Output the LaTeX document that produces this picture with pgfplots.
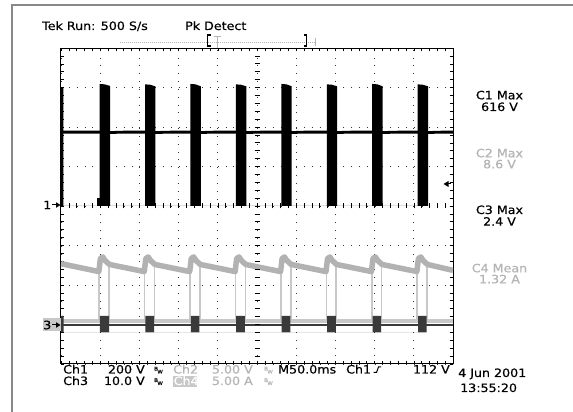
\documentclass[border=0pt]{standalone}
\usepackage{pgfplots}
\pgfplotsset{compat=1.18}
\usepackage{fontspec}
\setmainfont{DejaVu Sans}[FakeStretch=1.1,FakeBold=0.4]
\definecolor{lg}{RGB}{180,180,180}
\definecolor{cfour}{RGB}{178,178,178}
\definecolor{cfourl}{RGB}{200,200,200}
\definecolor{cthree}{RGB}{58,58,58}
\definecolor{frm}{RGB}{136,136,136}
\newcommand{\tk}{\fontsize{11.5}{13}\selectfont}
\newcommand{\bw}[3]{%
  \node[anchor=base west, inner sep=0, text=#3, font=\fontsize{5}{5}\selectfont] at (#1,#2) {\raisebox{3pt}{B}\kern-0.6pt W};}
\begin{document}
\begin{tikzpicture}
\useasboundingbox (0,0) rectangle (573pt,412pt);
\fill[white] (0,0) rectangle (573pt,412pt);
\begin{axis}[at={(61pt,48pt)}, anchor=south west, width=392pt, height=316pt, scale only axis,
 xmin=0, xmax=10, ymin=-4, ymax=4,
 xtick distance=1, ytick distance=1, minor tick num=4,
 xticklabels={}, yticklabels={},
 tick align=inside, xtick pos=both, ytick pos=both,
 major tick length=3pt, minor tick length=3pt,
 tick style={black, line width=0.6pt},
 grid=major, major grid style={black!80, line width=0.7pt, dash pattern=on 0.7pt off 7.14pt},
 axis line style={black, line width=1pt},
 clip=true]
% Ch4 baseline
\addplot[cfourl, line width=4pt] coordinates {(0,-2.91) (10,-2.91)};
% Ch4 vertical edges
\addplot[cfourl, line width=1.6pt, unbounded coords=jump] coordinates {
(0.975,-1.60) (0.975,-2.90) (0.975,nan) (1.225,-1.50) (1.225,-2.90) (1.225,nan)
(2.134,-1.60) (2.134,-2.90) (2.134,nan) (2.384,-1.50) (2.384,-2.90) (2.384,nan)
(3.293,-1.60) (3.293,-2.90) (3.293,nan) (3.543,-1.50) (3.543,-2.90) (3.543,nan)
(4.452,-1.60) (4.452,-2.90) (4.452,nan) (4.702,-1.50) (4.702,-2.90) (4.702,nan)
(5.611,-1.60) (5.611,-2.90) (5.611,nan) (5.861,-1.50) (5.861,-2.90) (5.861,nan)
(6.770,-1.60) (6.770,-2.90) (6.770,nan) (7.020,-1.50) (7.020,-2.90) (7.020,nan)
(7.929,-1.60) (7.929,-2.90) (7.929,nan) (8.179,-1.50) (8.179,-2.90) (8.179,nan)
(9.088,-1.60) (9.088,-2.90) (9.088,nan) (9.338,-1.50) (9.338,-2.90)};
% Ch4 sawtooth
\addplot[cfour, line width=5.5pt, line join=round] coordinates {
(0,-1.46) (0.965,-1.66) (1.005,-1.33) (1.065,-1.29) (1.125,-1.38) (1.235,-1.48)
(2.124,-1.66) (2.164,-1.33) (2.224,-1.29) (2.284,-1.38) (2.394,-1.48)
(3.283,-1.66) (3.323,-1.33) (3.383,-1.29) (3.443,-1.38) (3.553,-1.48)
(4.442,-1.66) (4.482,-1.33) (4.542,-1.29) (4.602,-1.38) (4.712,-1.48)
(5.601,-1.66) (5.641,-1.33) (5.701,-1.29) (5.761,-1.38) (5.871,-1.48)
(6.760,-1.66) (6.800,-1.33) (6.860,-1.29) (6.920,-1.38) (7.030,-1.48)
(7.919,-1.66) (7.959,-1.33) (8.019,-1.29) (8.079,-1.38) (8.189,-1.48)
(9.078,-1.66) (9.118,-1.33) (9.178,-1.29) (9.238,-1.38) (9.348,-1.48)
(10,-1.63)};
% Ch3 trace
\addplot[cthree, line width=2.5pt] coordinates {(0,-3.01) (10,-3.01)};
\addplot[fill=cthree, draw=none] coordinates {
(0,-3.2) (0,-2.78) (0.07,-2.78) (0.07,-3.2)
(0.99,-3.2) (0.99,-2.78) (1.225,-2.78) (1.225,-3.2)
(2.15,-3.2) (2.15,-2.78) (2.374,-2.78) (2.374,-3.2)
(3.31,-3.2) (3.31,-2.78) (3.533,-2.78) (3.533,-3.2)
(4.47,-3.2) (4.47,-2.78) (4.692,-2.78) (4.692,-3.2)
(5.63,-3.2) (5.63,-2.78) (5.851,-2.78) (5.851,-3.2)
(6.79,-3.2) (6.79,-2.78) (7.010,-2.78) (7.010,-3.2)
(7.95,-3.2) (7.95,-2.78) (8.169,-2.78) (8.169,-3.2)
(9.11,-3.2) (9.11,-2.78) (9.328,-2.78) (9.328,-3.2)} --cycle;
% Ch1 level line
\addplot[black, line width=2.8pt] coordinates {
(0.05,1.87) (0.5,1.87) (0.995,1.87)
(1.25,1.86) (1.6,1.87) (2.154,1.87)
(2.41,1.86) (2.8,1.87) (3.313,1.87)
(3.57,1.86) (3.9,1.87) (4.472,1.87)
(4.73,1.86) (5.1,1.87) (5.631,1.87)
(5.89,1.86) (6.2,1.87) (6.790,1.87)
(7.05,1.86) (7.4,1.87) (7.949,1.87)
(8.21,1.86) (8.6,1.87) (9.108,1.87)
(9.37,1.86) (9.7,1.87) (10,1.87)};
% Ch1 spikes
\addplot[fill=black, draw=none] coordinates {
(0,0) (0,3.00) (0.06,3.00) (0.06,0)
(0.92,0) (0.92,0.2) (0.985,0.2) (0.985,3.09) (1.11,3.08) (1.25,3.04) (1.25,0)
(2.144,0) (2.144,3.08) (2.27,3.07) (2.409,3.03) (2.409,0)
(3.303,0) (3.303,3.09) (3.43,3.08) (3.568,3.03) (3.568,0)
(4.462,0) (4.462,3.08) (4.59,3.07) (4.727,3.03) (4.727,0)
(5.621,0) (5.621,3.09) (5.75,3.08) (5.886,3.03) (5.886,0)
(6.780,0) (6.780,3.08) (6.91,3.07) (7.045,3.03) (7.045,0)
(7.939,0) (7.939,3.09) (8.07,3.08) (8.204,3.03) (8.204,0)
(9.098,0) (9.098,3.08) (9.23,3.07) (9.363,3.03) (9.363,0)} --cycle;
\end{axis}
\begin{scope}[x=1pt,y=1pt]
% outer frame
\draw[frm, line width=2pt] (12,0) -- (12,407) -- (573,407);
% center cross ticks
\foreach \i in {1,...,39} \draw[black, line width=0.6pt] (254.5,48+\i*7.9) -- (259.5,48+\i*7.9);
\foreach \i in {1,...,49} \draw[black, line width=0.6pt] (61+\i*7.84,203.5) -- (61+\i*7.84,208.5);
% top texts
\node[anchor=base west, inner sep=0] at (42,382) {\tk Tek Run: 500 S/s};
\node[anchor=base west, inner sep=0] at (185,382) {\tk Pk Detect};
% cursor bar
\draw[lg, line width=0.6pt, dash pattern=on 1pt off 1pt] (120,370) -- (315,370);
\draw[lg, line width=0.8pt] (315,366) -- (315,374);
\draw[black, line width=1.3pt] (210.5,377) -- (207.5,377) -- (207.5,366) -- (210.5,366);
\draw[black, line width=1.3pt] (303.5,377) -- (306.5,377) -- (306.5,366) -- (303.5,366);
\draw[lg, line width=1pt] (217,364) -- (217,375) (213.5,375) -- (220.5,375);
% ground markers
\node[anchor=east, inner sep=0] at (51.5,207) {\tk 1};
\draw[black, line width=1pt] (52,207) -- (57,207);
\fill[black] (60.5,207) -- (56,209.8) -- (56,204.2) -- cycle;
\fill[cfourl] (43.3,81.3) rectangle (61,93.7);
\node[anchor=east, inner sep=0] at (51.5,87) {\tk 3};
\draw[black, line width=1pt] (52,87) -- (57,87);
\fill[black] (60.5,87) -- (56,89.8) -- (56,84.2) -- cycle;
% trigger level marker
\fill[black] (443.5,228) -- (448.5,231) -- (448.5,225) -- cycle;
\draw[black, line width=1pt] (448,228) -- (451,228);
% measurements
\node[anchor=base, inner sep=0] at (499.5,312.7) {\tk C1 Max};
\node[anchor=base, inner sep=0] at (499.5,301) {\tk 616 V};
\node[anchor=base, inner sep=0, text=lg] at (499.5,254.7) {\tk C2 Max};
\node[anchor=base, inner sep=0, text=lg] at (499.5,243.7) {\tk 8.6 V};
\node[anchor=base, inner sep=0] at (499.5,198) {\tk C3 Max};
\node[anchor=base, inner sep=0] at (499.5,186.3) {\tk 2.4 V};
\node[anchor=base, inner sep=0, text=lg] at (499.5,139.7) {\tk C4 Mean};
\node[anchor=base, inner sep=0, text=lg] at (499.5,128.7) {\tk 1.32 A};
% bottom status rows
\node[anchor=base west, inner sep=0] at (63,38.5) {\tk Ch1};
\node[anchor=base east, inner sep=0] at (145,38.5) {\tk 200 V};
\bw{154}{38.5}{black}
\node[anchor=base west, inner sep=0, text=lg] at (173,38.5) {\tk Ch2};
\node[anchor=base east, inner sep=0, text=lg] at (253,38.5) {\tk 5.00 V};
\bw{264}{38.5}{lg}
\node[anchor=base west, inner sep=0] at (278,38.5) {\tk M50.0ms};
\node[anchor=base west, inner sep=0] at (346,38.5) {\tk Ch1};
\draw[black, line width=1pt] (373.5,39.5) -- (376.5,39.5) -- (378.5,45) -- (381,45);
\node[anchor=base east, inner sep=0] at (450,38.5) {\tk 112 V};
\node[anchor=base west, inner sep=0] at (63,27) {\tk Ch3};
\node[anchor=base east, inner sep=0] at (145,27) {\tk 10.0 V};
\bw{154}{27}{black}
\fill[cfourl] (173,25) rectangle (197,36);
\node[anchor=base west, inner sep=0, text=white] at (173.5,27) {\tk Ch4};
\node[anchor=base east, inner sep=0, text=lg] at (253,27) {\tk 5.00 A};
\bw{264}{27}{lg}
\node[anchor=base west, inner sep=0] at (458,35) {\tk 4 Jun 2001};
\node[anchor=base west, inner sep=0] at (460,20) {\tk 13:55:20};
\end{scope}
\end{tikzpicture}
\end{document}
